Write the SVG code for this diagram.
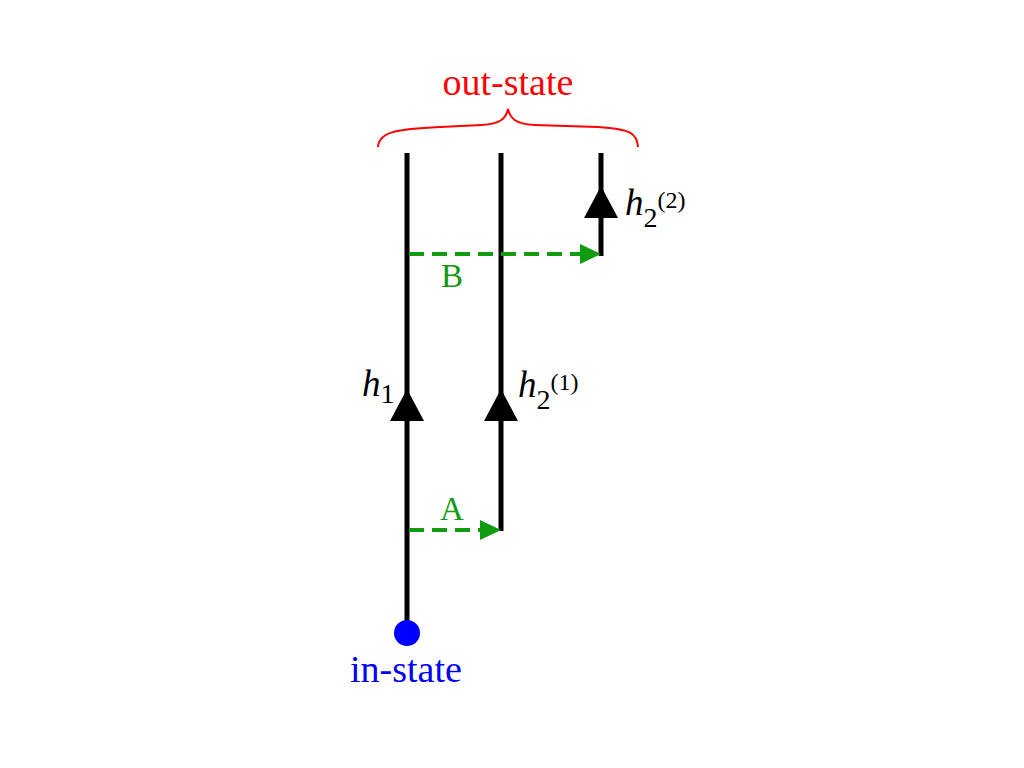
<svg xmlns="http://www.w3.org/2000/svg" width="1024" height="768" viewBox="0 0 1024 768">
<style>
.wl{stroke:#000;stroke-width:5;fill:none}
.ah{fill:#000}
.dash{stroke:#109b10;stroke-width:4;stroke-dasharray:15 8;fill:none}
.gh{fill:#109b10}
.t{font-family:"Liberation Serif","Times New Roman",serif}
.it{font-style:italic}
</style>
<rect width="1024" height="768" fill="#fff"/>
<g id="connectors">
<line class="wl" x1="407" y1="153" x2="407" y2="633"/>
<line class="wl" x1="501" y1="153" x2="501" y2="531"/>
<line class="wl" x1="601" y1="153" x2="601" y2="256"/>
<polygon class="ah" points="407,389 390,421 424,421"/>
<polygon class="ah" points="501,389 484,421 518,421"/>
<polygon class="ah" points="601,186 584,218 618,218"/>
<line class="dash" x1="409" y1="254" x2="582" y2="254"/>
<polygon class="gh" points="601,254 580,244 580,264"/>
<line class="dash" x1="409" y1="530" x2="482" y2="530"/>
<polygon class="gh" points="501,530 480,520 480,540"/>
</g>
<g id="out-state">
<path d="M378,147 C379,132 396,129 440,127 L482,125 C501,124 506,118 508,109 C510,118 515,124 534,125 L598,127 C632,129 637,134 638,147" fill="none" stroke="#f00" stroke-width="2"/>
<text class="t" x="508" y="95" font-size="38" fill="#f00" text-anchor="middle">out-state</text>
</g>
<g id="in-state">
<circle cx="407" cy="633" r="13" fill="#00f"/>
<text class="t" x="406" y="682" font-size="38" fill="#00f" text-anchor="middle">in-state</text>
</g>
<g id="label-A"><text class="t" x="452" y="520" font-size="33" fill="#109b10" text-anchor="middle">A</text></g>
<g id="label-B"><text class="t" x="452" y="287" font-size="33" fill="#109b10" text-anchor="middle">B</text></g>
<g id="label-h1"><text class="t" x="362" y="396" font-size="37"><tspan class="it">h</tspan><tspan font-size="28" dy="7">1</tspan></text></g>
<g id="label-h21"><text class="t" x="518" y="397" font-size="37"><tspan class="it">h</tspan><tspan font-size="28" dy="12">2</tspan><tspan font-size="24" dy="-19">(1)</tspan></text></g>
<g id="label-h22"><text class="t" x="625" y="215" font-size="37"><tspan class="it">h</tspan><tspan font-size="28" dy="12">2</tspan><tspan font-size="24" dy="-19">(2)</tspan></text></g>
</svg>
